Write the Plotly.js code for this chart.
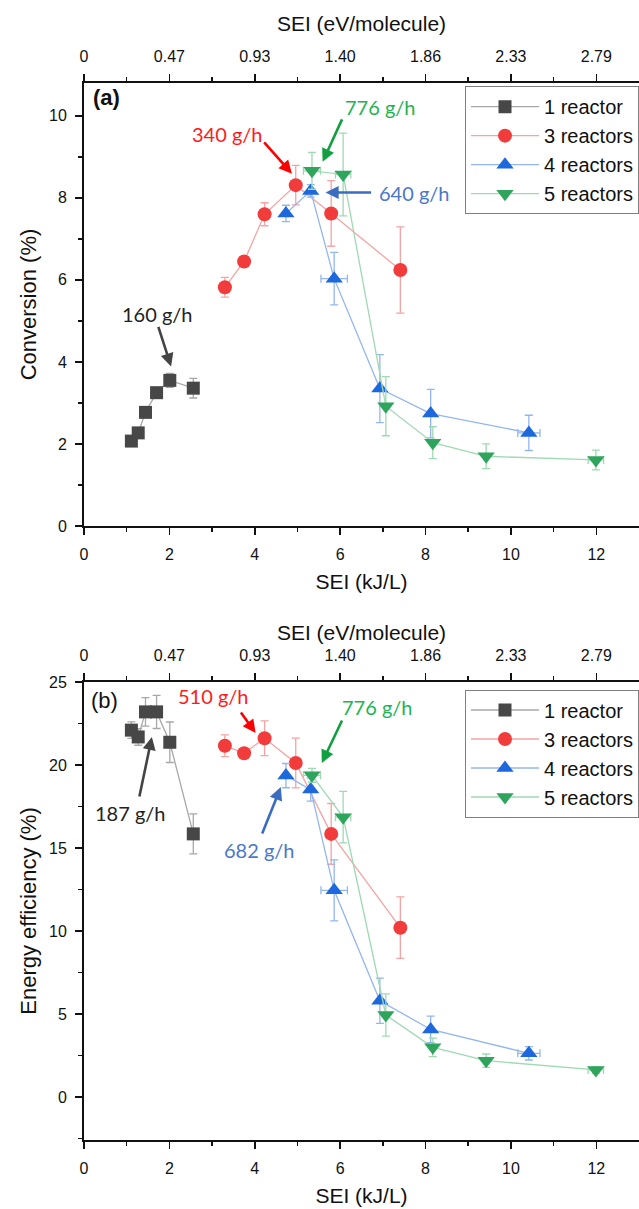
<!DOCTYPE html>
<html>
<head>
<meta charset="utf-8">
<script src="https://cdn.plot.ly/plotly-3.0.1.min.js"></script>
<style>html,body{margin:0;padding:0;background:#fff;}#chart{width:639px;height:1209px;}</style>
</head>
<body>
<div id="chart"></div>
<script>
// ---- data ----
const seriesNames = ['1 reactor', '3 reactors', '4 reactors', '5 reactors'];
const x1 = [1.11, 1.27, 1.44, 1.70, 2.01, 2.56];
const x3 = [3.30, 3.75, 4.23, 4.96, 5.79, 7.41];
const x4 = [4.73, 5.31, 5.86, 6.93, 8.12, 10.42];
const x5 = [5.34, 6.07, 7.07, 8.17, 9.42, 11.99];
const xErr1 = [0, 0, 0, 0, 0, 0];
const xErr3 = [0, 0, 0, 0, 0, 0];
const xErr4 = [0, 0, 0.31, 0, 0, 0.26];
const xErr5 = [0.2, 0.18, 0, 0, 0, 0.18];

const conv1 = [2.07, 2.27, 2.77, 3.25, 3.55, 3.36];
const conv3 = [5.82, 6.45, 7.60, 8.31, 7.62, 6.24];
const conv4 = [7.62, 8.17, 6.03, 3.35, 2.74, 2.27];
const conv5 = [8.66, 8.57, 2.92, 2.03, 1.70, 1.61];
const convErr1 = [0.08, 0.08, 0.08, 0.08, 0.17, 0.24];
const convErr3 = [0.24, 0.08, 0.28, 0.48, 0.80, 1.05];
const convErr4 = [0.20, 0.15, 0.64, 0.83, 0.59, 0.43];
const convErr5 = [0.45, 1.01, 0.72, 0.39, 0.30, 0.24];

const eff1 = [22.10, 21.69, 23.20, 23.20, 21.37, 15.85];
const eff3 = [21.16, 20.71, 21.61, 20.12, 15.85, 10.20];
const eff4 = [19.36, 18.52, 12.45, 5.80, 4.07, 2.63];
const eff5 = [19.38, 16.86, 4.94, 2.99, 2.19, 1.63];
const effErr1 = [0.50, 0.50, 0.86, 1.00, 1.22, 1.20];
const effErr3 = [0.66, 0.20, 1.05, 1.50, 1.83, 1.85];
const effErr4 = [0.73, 0.70, 1.84, 1.36, 0.80, 0.40];
const effErr5 = [0.42, 1.55, 1.27, 0.56, 0.40, 0.20];

const seiTicks = [0, 2, 4, 6, 8, 10, 12];
const evTickText = ['0', '0.47', '0.93', '1.40', '1.86', '2.33', '2.79'];
const minorTicks = [1, 3, 5, 7, 9, 11];

// ---- styles ----
const sty = [
  {marker: '#474747', line: '#a8a8a8', symbol: 'square', size: 13},
  {marker: '#f23c3c', line: '#f5a3a3', symbol: 'circle', size: 14},
  {marker: '#1c68dc', line: '#93b6ef', symbol: 'triangle-up', size: 15},
  {marker: '#2ea45c', line: '#9fd9b4', symbol: 'triangle-down', size: 15}
];
const xs = [x1, x3, x4, x5];
const xErrs = [xErr1, xErr3, xErr4, xErr5];
const convs = [conv1, conv3, conv4, conv5];
const convErrs = [convErr1, convErr3, convErr4, convErr5];
const effs = [eff1, eff3, eff4, eff5];
const effErrs = [effErr1, effErr3, effErr4, effErr5];

const traces = [];
function addSeries(i, ys, errs, xa, ya, leg) {
  traces.push({
    type: 'scatter', mode: 'lines+markers', name: seriesNames[i],
    x: xs[i], y: ys, xaxis: xa, yaxis: ya, legend: leg,
    line: {color: sty[i].line, width: 1.3},
    marker: {color: sty[i].marker, symbol: sty[i].symbol, size: sty[i].size, line: {width: 0}},
    error_y: {type: 'data', array: errs, visible: true, color: sty[i].line, thickness: 1.3, width: 4},
    error_x: {type: 'data', array: xErrs[i], visible: true, color: sty[i].line, thickness: 1.3, width: 4}
  });
}
for (let i = 0; i < 4; i++) addSeries(i, convs[i], convErrs[i], 'x', 'y', 'legend');
for (let i = 0; i < 4; i++) addSeries(i, effs[i], effErrs[i], 'x2', 'y2', 'legend2');
// empty helpers so the top (eV/molecule) axes are drawn
traces.push({type: 'scatter', x: [], y: [], xaxis: 'x3', yaxis: 'y', showlegend: false, hoverinfo: 'skip'});
traces.push({type: 'scatter', x: [], y: [], xaxis: 'x4', yaxis: 'y2', showlegend: false, hoverinfo: 'skip'});

const tickFont = {family: '"Liberation Sans", Arial, sans-serif', size: 16, color: '#111'};
const titleFont = {family: '"Liberation Sans", Arial, sans-serif', size: 21, color: '#111'};
const yTitleFont = {family: '"Liberation Sans", Arial, sans-serif', size: 22, color: '#111'};
const annFont = 'Lato, "Open Sans", sans-serif';

function xAxisBottom(anchor) {
  return {
    anchor: anchor, range: [0, 13], tickmode: 'array', tickvals: seiTicks,
    ticks: 'outside', ticklen: 7, tickwidth: 1.5, tickcolor: '#111',
    showline: true, linecolor: '#111', linewidth: 2, showgrid: false, zeroline: false,
    tickfont: tickFont, ticklabelstandoff: 6,
    minor: {tickvals: minorTicks, ticks: 'outside', ticklen: 4, tickwidth: 1.5, tickcolor: '#111', showgrid: false},
    title: {text: 'SEI (kJ/L)', font: titleFont, standoff: 12}
  };
}
function xAxisTop(over, anchor, standoff) {
  return {
    overlaying: over, anchor: anchor, side: 'top', range: [0, 13], tickmode: 'array',
    tickvals: seiTicks, ticktext: evTickText,
    ticks: 'outside', ticklen: 7, tickwidth: 1.5, tickcolor: '#111',
    showline: true, linecolor: '#111', linewidth: 2, showgrid: false, zeroline: false,
    tickfont: tickFont, ticklabelstandoff: 6,
    minor: {tickvals: minorTicks, ticks: 'outside', ticklen: 4, tickwidth: 1.5, tickcolor: '#111', showgrid: false},
    title: {text: 'SEI (eV/molecule)', font: titleFont, standoff: standoff}
  };
}
function yAxis(domain, range, dtick, minorD, title) {
  return {
    domain: domain, range: range, tick0: 0, dtick: dtick,
    ticks: 'outside', ticklen: 7, tickwidth: 1.5, tickcolor: '#111',
    showline: true, linecolor: '#111', linewidth: 2, showgrid: false, zeroline: false,
    tickfont: tickFont, ticklabelstandoff: 5,
    minor: {dtick: minorD, tick0: 0, ticks: 'outside', ticklen: 4, tickwidth: 1.5, tickcolor: '#111', showgrid: false},
    title: {text: title, font: yTitleFont, standoff: 6}
  };
}

function label(x, y, text, color, xref, yref, size, bold) {
  return {x: x, y: y, xref: xref, yref: yref, text: bold ? '<b>' + text + '</b>' : text, showarrow: false,
    font: {family: size ? '"Liberation Sans", Arial, sans-serif' : annFont, size: size || 20, color: color}};
}
function arrow(hx, hy, tx, ty, color, xref, yref) {
  return {x: hx, y: hy, ax: tx, ay: ty, xref: xref, yref: yref, axref: xref, ayref: yref,
    text: '', showarrow: true, arrowhead: 2, arrowsize: 1, arrowwidth: 2.6, arrowcolor: color, standoff: 0, startstandoff: 0};
}

const annotations = [
  label(0.52, 10.45, '(a)', '#111', 'x', 'y', 22, true),
  label(3.35, 9.56, '340 g/h', '#ff1a1a', 'x', 'y'),
  arrow(4.87, 8.59, 4.19, 9.39, '#ff0000', 'x', 'y'),
  label(6.94, 10.22, '776 g/h', '#22b352', 'x', 'y'),
  arrow(5.59, 8.88, 6.06, 9.95, '#10a040', 'x', 'y'),
  label(7.74, 8.13, '640 g/h', '#4a78c8', 'x', 'y'),
  arrow(5.66, 8.13, 6.76, 8.13, '#3a6cc0', 'x', 'y'),
  label(1.73, 5.18, '160 g/h', '#222', 'x', 'y'),
  arrow(2.04, 3.89, 1.73, 4.89, '#444', 'x', 'y'),
  label(0.47, 23.9, '(b)', '#111', 'x2', 'y2', 22, false),
  label(3.04, 24.16, '510 g/h', '#ff1a1a', 'x2', 'y2'),
  arrow(4.02, 21.93, 3.65, 23.25, '#ff0000', 'x2', 'y2'),
  label(6.87, 23.49, '776 g/h', '#22b352', 'x2', 'y2'),
  arrow(5.57, 20.12, 6.06, 22.77, '#10a040', 'x2', 'y2'),
  label(1.10, 17.1, '187 g/h', '#222', 'x2', 'y2'),
  arrow(1.59, 21.69, 1.29, 18.01, '#444', 'x2', 'y2'),
  label(4.12, 14.88, '682 g/h', '#4a78c8', 'x2', 'y2'),
  arrow(4.61, 18.67, 4.16, 15.78, '#3a6cc0', 'x2', 'y2')
];

const legendBase = {
  x: 1, xanchor: 'right', yanchor: 'top', bgcolor: 'rgba(255,255,255,1)',
  bordercolor: '#808080', borderwidth: 1,
  font: {family: '"Liberation Sans", Arial, sans-serif', size: 20, color: '#111'},
  itemwidth: 68, tracegroupgap: 0
};

const layout = {
  width: 639, height: 1209,
  margin: {l: 84, r: 0, t: 83, b: 69},
  paper_bgcolor: '#fff', plot_bgcolor: '#fff',
  showlegend: true,
  xaxis: xAxisBottom('y'),
  xaxis2: xAxisBottom('y2'),
  xaxis3: xAxisTop('x', 'y', 10),
  xaxis4: xAxisTop('x2', 'y2', 0),
  yaxis: yAxis([0.5809, 1], [0, 10.8], 2, 1, 'Conversion (%)'),
  yaxis2: yAxis([0, 0.4333], [-2.59, 25], 5, 2.5, 'Energy efficiency (%)'),
  legend: Object.assign({}, legendBase, {y: 0.997}),
  legend2: Object.assign({}, legendBase, {y: 0.4262}),
  annotations: annotations
};

Plotly.newPlot('chart', traces, layout, {displayModeBar: false, staticPlot: true});
</script>
</body>
</html>
